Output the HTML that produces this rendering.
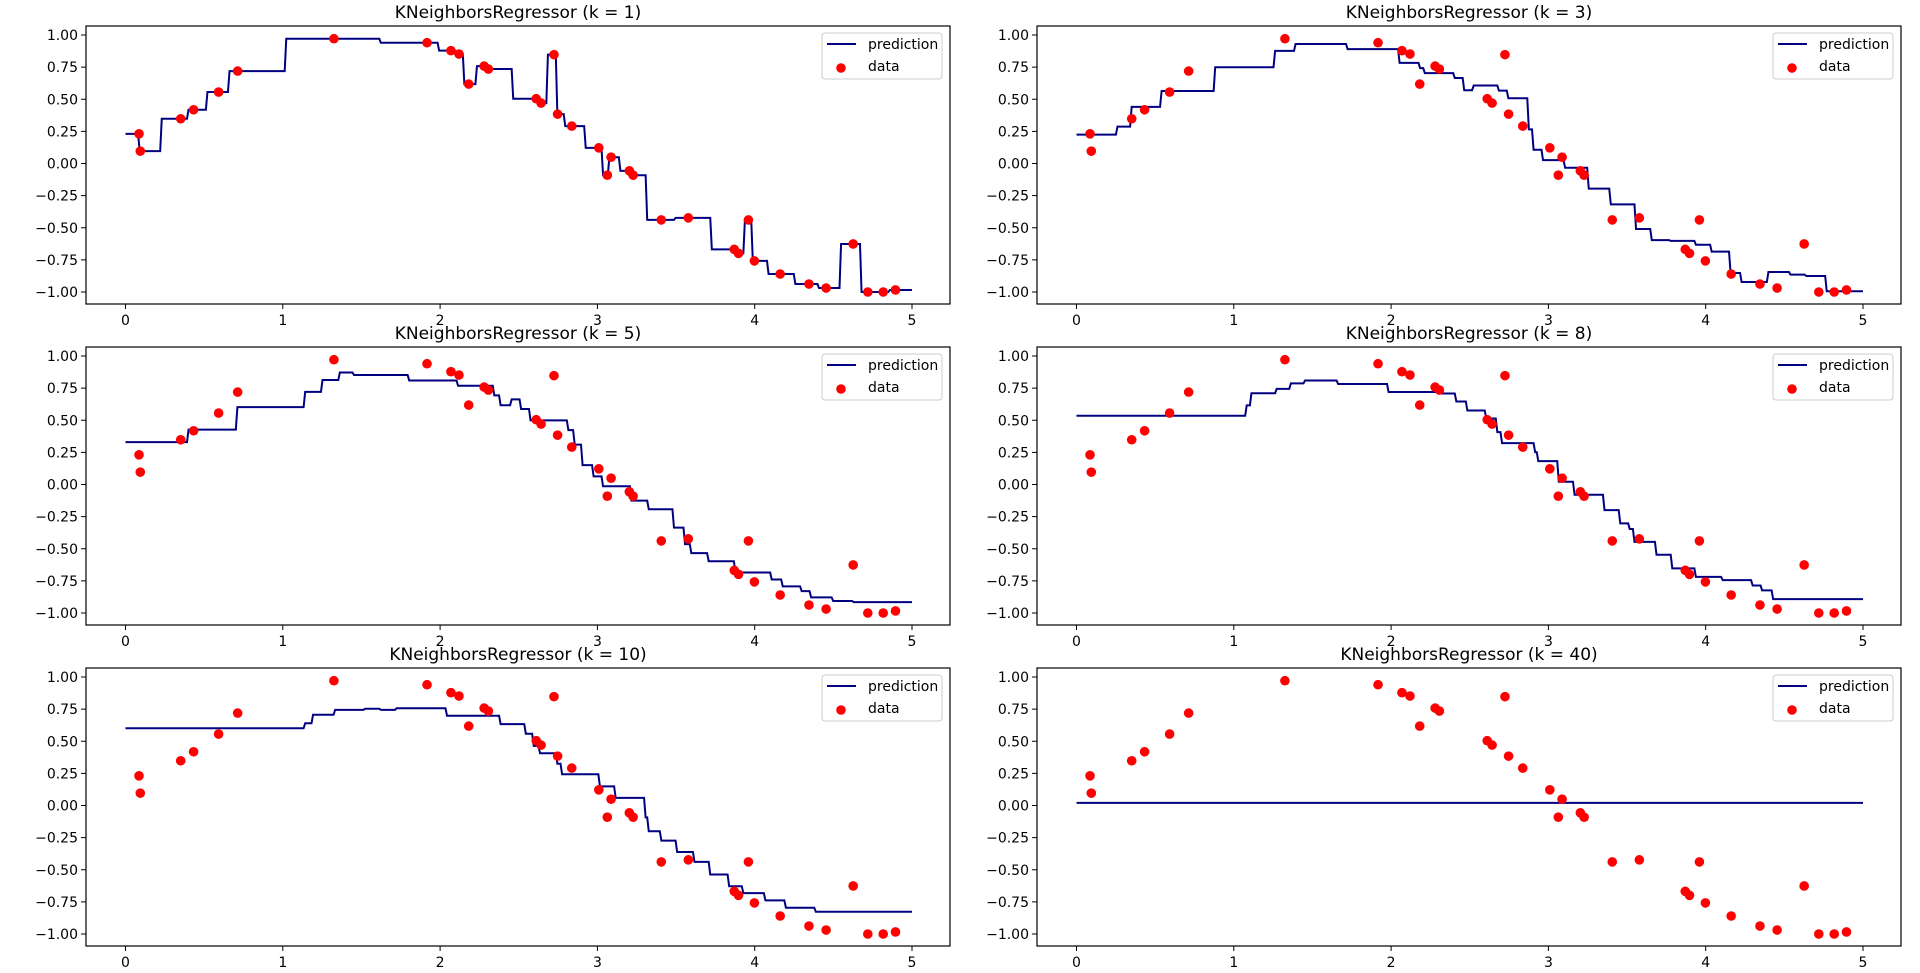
<!DOCTYPE html>
<html><head><meta charset="utf-8"><style>
html,body{margin:0;padding:0;background:#fff;}
svg{display:block;font-family:"DejaVu Sans","Liberation Sans",sans-serif;}
</style></head><body>
<svg id="fig" width="1920" height="973" viewBox="0 0 1920 973" xmlns="http://www.w3.org/2000/svg"></svg>
<script>
const dataX = [0.086,0.094,0.351,0.433,0.592,0.713,1.325,1.917,2.069,2.120,2.182,2.280,2.307,2.611,2.642,2.724,2.747,2.837,3.009,3.087,3.063,3.203,3.227,3.406,3.578,3.960,3.870,3.897,3.998,4.162,4.345,4.454,4.626,4.719,4.817,4.895];
const dataY = [0.231,0.096,0.348,0.418,0.556,0.719,0.971,0.940,0.878,0.852,0.618,0.758,0.735,0.504,0.470,0.847,0.384,0.291,0.122,0.049,-0.091,-0.057,-0.091,-0.439,-0.423,-0.439,-0.668,-0.699,-0.758,-0.860,-0.938,-0.969,-0.626,-1.0,-1.0,-0.984];
const kValues = [1,3,5,8,10,40];
const xTicks = [0,1,2,3,4,5];
const yTicks = [1.00,0.75,0.50,0.25,0.00,-0.25,-0.50,-0.75,-1.00];
const yTickLabels = ["1.00","0.75","0.50","0.25","0.00","\u22120.25","\u22120.50","\u22120.75","\u22121.00"];

const NS="http://www.w3.org/2000/svg";
const svg=document.getElementById('fig');
function mk(tag,attrs,parent){const e=document.createElementNS(NS,tag);for(const k in attrs)e.setAttribute(k,attrs[k]);(parent||svg).appendChild(e);return e;}

function knn(t,k){
  const kk=Math.min(k,dataX.length);
  const idx=dataX.map((x,i)=>[Math.abs(x-t),i]).sort((a,b)=>a[0]-b[0]).slice(0,kk);
  return idx.reduce((s,p)=>s+dataY[p[1]],0)/kk;
}

const lefts=[86,1037], tops=[26,347,668], W=864, H=278;
kValues.forEach((k,pi)=>{
  const L=lefts[pi%2], T=tops[Math.floor(pi/2)];
  const sx=v=>L+39.5+v*157.3;
  const sy=v=>T+9+(1-v)*128.5;
  const g=mk('g',{});
  
  
  const title=mk('text',{x:L+W/2,y:T-8,'text-anchor':'middle','font-size':'17'},g);
  title.textContent='KNeighborsRegressor (k = '+k+')';
  
  
  xTicks.forEach(v=>{
    const x=sx(v);
    const tk=mk('line',{x1:x,x2:x,y1:T+H,y2:T+H+5,stroke:'#000','stroke-width':1},g);
    
    
    const tl=mk('text',{x:x,y:T+H+21,'text-anchor':'middle','font-size':'14'},g);
    tl.textContent=String(v);
    
    
  });
  yTicks.forEach((v,i)=>{
    const y=sy(v);
    const tk=mk('line',{x1:L-5,x2:L,y1:y,y2:y,stroke:'#000','stroke-width':1},g);
    
    
    const tl=mk('text',{x:L-8,y:y+5,'text-anchor':'end','font-size':'14'},g);
    tl.textContent=yTickLabels[i];
    
    
  });
  const pts=[];
  for(let i=0;i<500;i++){const t=5*i/499;pts.push(sx(t).toFixed(2)+','+sy(knn(t,k)).toFixed(2));}
  const pl=mk('polyline',{points:pts.join(' '),fill:'none',stroke:'#000080','stroke-width':2},g);
  
  
  dataX.forEach((x,i)=>{
    const c=mk('circle',{cx:sx(x),cy:sy(dataY[i]),r:4.8,fill:'#ff0000'},g);
    
    
  });
  const fr=mk('rect',{x:L,y:T,width:W,height:H,fill:'none',stroke:'#000','stroke-width':1.2},g);
  
  
  const lg=mk('g',{},g);
  
  
  const lx=L+W-128, ly=T+7;
  mk('rect',{x:lx,y:ly,width:120,height:46,rx:3,fill:'#fff','fill-opacity':0.8,stroke:'#ccc','stroke-width':1},lg);
  const e1=mk('line',{x1:lx+5,x2:lx+34,y1:ly+11,y2:ly+11,stroke:'#000080','stroke-width':2},lg);
  
  
  const t1=mk('text',{x:lx+46,y:ly+16,'font-size':'14'},lg);t1.textContent='prediction';
  
  
  const e2=mk('circle',{cx:lx+19,cy:ly+35,r:4.8,fill:'#ff0000'},lg);
  
  
  const t2=mk('text',{x:lx+46,y:ly+38,'font-size':'14'},lg);t2.textContent='data';
  
  
});
</script>
</body></html>
